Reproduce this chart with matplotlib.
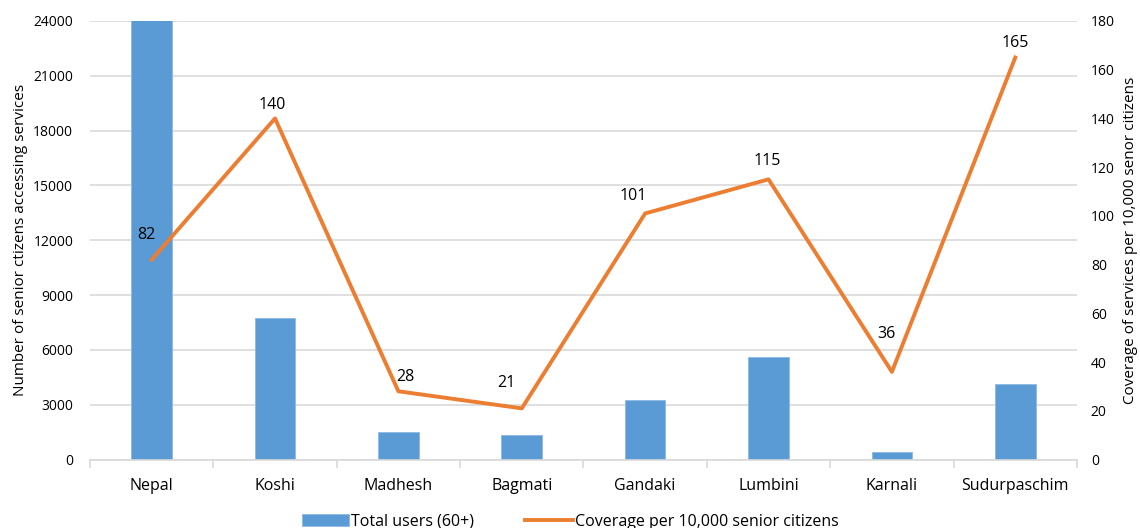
import matplotlib.pyplot as plt
import numpy as np

plt.rcParams['font.family'] = ['Open Sans', 'DejaVu Sans']

# provinces and values
regions = ['Nepal', 'Koshi', 'Madhesh', 'Bagmati', 'Gandaki', 'Lumbini', 'Karnali', 'Sudurpaschim']
total_users = [24065, 7760, 1530, 1365, 3275, 5600, 435, 4110]
coverage = [82, 140, 28, 21, 101, 115, 36, 165]

# label nudges in pixels (dx, dy)
label_offsets = [(-5, 25), (-3, 13), (7, 14), (-15, 25), (-12, 17), (-1, 18), (-5, 38), (0, 15)]

bar_color = '#5B9BD5'
line_color = '#ED7D31'
grid_color = '#D9D9D9'

fig = plt.figure(figsize=(11.4, 5.28), dpi=100)
ax = fig.add_axes([0.0789, 0.1297, 0.8658, 0.8306])
ax2 = ax.twinx()

x = np.arange(len(regions))
bars = ax.bar(x, total_users, width=0.33, color=bar_color, edgecolor='#8DB9E3',
              linewidth=0.6, label='Total users (60+)', zorder=2)
ax.set_xlim(-0.5, len(regions) - 0.5)
ax.set_ylim(0, 24000)
ax.set_yticks(np.arange(0, 24001, 3000))
ax.yaxis.grid(True, color=grid_color, linewidth=1.2)
ax.set_axisbelow(True)
ax.set_xticks(x)
ax.set_xticklabels(regions, fontsize=11.5)
ax.set_xticks(np.arange(-0.5, len(regions)), minor=True)
ax.tick_params(axis='x', which='major', length=0, pad=13)
ax.tick_params(axis='x', which='minor', length=6, color=grid_color, width=1.2)
ax.tick_params(axis='y', length=0, pad=12, labelsize=10)
ax.set_ylabel('Number of senior ctizens accessing services', fontsize=11, labelpad=4)

for s in ['top', 'left', 'right']:
    ax.spines[s].set_visible(False)
    ax2.spines[s].set_visible(False)
ax.spines['bottom'].set_color(grid_color)
ax.spines['bottom'].set_linewidth(1.2)
ax2.spines['bottom'].set_visible(False)

line, = ax2.plot(x, coverage, color=line_color, linewidth=2.8,
                 label='Coverage per 10,000 senior citizens', zorder=3)
ax2.set_ylim(0, 180)
ax2.set_yticks(np.arange(0, 181, 20))
ax2.tick_params(axis='y', length=0, pad=10, labelsize=10)
ax2.set_ylabel('Coverage of services per 10,000 senor citizens', fontsize=11, labelpad=6)

for xi, val, (dx, dy) in zip(x, coverage, label_offsets):
    ax2.annotate(str(val), (xi, val), xytext=(dx, dy), textcoords='offset pixels',
                 ha='center', va='center', fontsize=11.5)

fig.legend(handles=[bars, line], loc='center', bbox_to_anchor=(0.5, 0.012),
           ncol=2, frameon=False, fontsize=11.5, handlelength=3.0,
           handletextpad=0.1, columnspacing=3.2)

fig.savefig('out.png', dpi=100)
